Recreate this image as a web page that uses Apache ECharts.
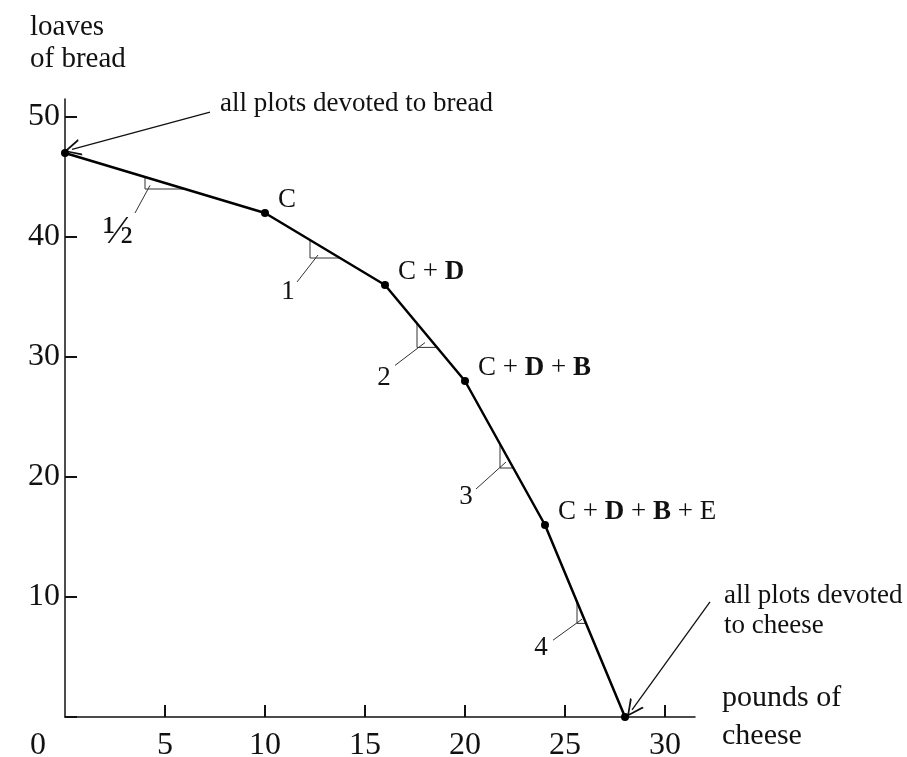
<!DOCTYPE html>
<html>
<head>
<meta charset="utf-8">
<script src="https://cdn.jsdelivr.net/npm/echarts@6/dist/echarts.min.js"></script>
<style>
  html, body { margin: 0; padding: 0; background: #fff; }
  #chart { width: 907px; height: 757px; }
</style>
</head>
<body>
<div id="chart"></div>
<script>
// production possibilities: pounds of cheese vs loaves of bread
var cheese = [0, 10, 16, 20, 24, 28];
var bread = [47, 42, 36, 28, 16, 0];
var pointNames = ['', 'C', 'C + {b|D}', 'C + {b|D} + {b|B}', 'C + {b|D} + {b|B} + E', ''];
var xTicks = [5, 10, 15, 20, 25, 30];
var yTicks = [0, 10, 20, 30, 40, 50];
var yTickLabels = [10, 20, 30, 40, 50];

// slope markers: small right triangle under each segment, a leader line, and its label
var slopeLabels = ['½', '1', '2', '3', '4'];
var slopeTriangles = [
    [[4, 45], [4, 44], [6, 44]],
    [[12.25, 39.75], [12.25, 38.25], [13.75, 38.25]],
    [[17.6, 32.8], [17.6, 30.8], [18.6, 30.8]],
    [[21.75, 22.75], [21.75, 20.75], [22.42, 20.75]],
    [[25.6, 9.6], [25.6, 7.8], [26.05, 7.8]]
];
var slopeLeaders = [
    [[4.25, 44.3], [3.5, 42]],
    [[12.65, 38.5], [11.6, 36.25]],
    [[18, 31.2], [16.5, 29.3]],
    [[22.05, 21.25], [20.55, 19]],
    [[25.85, 8.15], [24.4, 6.4]]
];
var slopeLabelAt = [[2.65, 40.4], [11.15, 35.4], [15.95, 28.25], [20.05, 18.3], [23.8, 5.75]];

// notes with arrows pointing to the two end points
var noteTexts = ['all plots devoted to bread', 'all plots devoted\nto cheese'];
var noteAt = [[7.75, 51.1], [32.95, 8.8]];
var noteArrows = [
    [[7.25, 50.4], [0.35, 47.3]],
    [[32.25, 9.6], [28.35, 0.6]]
];

var FONT = '"Liberation Serif", "DejaVu Serif", serif';
var INK = '#111';
var myChart = echarts.init(document.getElementById('chart'));

var curve = [];
for (var i = 0; i < cheese.length; i++) {
    curve.push([cheese[i], bread[i], pointNames[i]]);
}
var triLines = [];
for (var i = 0; i < slopeTriangles.length; i++) {
    triLines.push({ coords: slopeTriangles[i] });
    triLines.push({ coords: slopeLeaders[i] });
}
var slopeText = [];
for (var i = 0; i < slopeLabels.length; i++) {
    slopeText.push([slopeLabelAt[i][0], slopeLabelAt[i][1], slopeLabels[i]]);
}
var noteData = [];
for (var i = 0; i < noteTexts.length; i++) {
    noteData.push([noteAt[i][0], noteAt[i][1], noteTexts[i]]);
}
var arrowLines = [];
for (var i = 0; i < noteArrows.length; i++) {
    arrowLines.push({ coords: noteArrows[i] });
}

var option = {
    animation: false,
    backgroundColor: '#fff',
    grid: { left: 65, right: 212, top: 99, bottom: 40, outerBoundsMode: 'none', containLabel: false },
    xAxis: {
        type: 'value',
        min: 0,
        max: 31.5,
        interval: 5,
        name: 'pounds of\ncheese',
        nameLocation: 'end',
        nameGap: 27,
        nameTextStyle: { fontFamily: FONT, fontSize: 30, color: INK, lineHeight: 38, align: 'left', padding: [8, 0, 0, 0] },
        axisLine: { lineStyle: { color: INK, width: 1.5 } },
        axisTick: { inside: true, length: 12, customValues: xTicks, lineStyle: { color: INK, width: 2 } },
        axisLabel: {
            margin: 13,
            fontFamily: FONT,
            fontSize: 32,
            color: INK,
            customValues: xTicks
        },
        splitLine: { show: false }
    },
    yAxis: {
        type: 'value',
        min: 0,
        max: 51.5,
        interval: 10,
        axisLine: { show: true, lineStyle: { color: INK, width: 1.5 } },
        axisTick: { show: true, inside: true, length: 12, customValues: yTicks, lineStyle: { color: INK, width: 2 } },
        axisLabel: {
            margin: 5,
            fontFamily: FONT,
            fontSize: 32,
            color: INK,
            customValues: yTickLabels
        },
        splitLine: { show: false }
    },
    graphic: [
        { type: 'text', left: 30, top: 11, style: { text: 'loaves\nof bread', font: '29px ' + FONT, fill: INK, lineHeight: 32 } },
        { type: 'text', x: 38, y: 746, style: { text: '0', font: '32px ' + FONT, fill: INK, align: 'center', verticalAlign: 'middle' } }
    ],
    series: [
        {
            type: 'line',
            data: curve,
            symbol: 'circle',
            symbolSize: 8,
            itemStyle: { color: '#000', opacity: 1 },
            lineStyle: { color: '#000', width: 2.5, opacity: 1 },
            label: {
                show: true,
                position: 'right',
                offset: [4, -13],
                fontFamily: FONT,
                fontSize: 27,
                color: INK,
                formatter: function (p) { return p.data[2]; },
                rich: { b: { fontFamily: FONT, fontSize: 27, fontWeight: 'bold', color: INK } }
            },
            z: 5
        },
        {
            type: 'lines',
            coordinateSystem: 'cartesian2d',
            polyline: true,
            data: triLines,
            lineStyle: { color: '#333', width: 1, opacity: 1 },
            symbol: 'none',
            z: 3
        },
        {
            type: 'scatter',
            data: slopeText,
            symbolSize: 0,
            itemStyle: { opacity: 1 },
            label: {
                show: true,
                position: 'inside',
                fontFamily: FONT,
                fontSize: 27,
                color: INK,
                formatter: function (p) {
                    return p.data[2] === '½' ? '{f|½}' : p.data[2];
                },
                rich: { f: { fontFamily: FONT, fontSize: 40, color: INK } }
            },
            z: 4
        },
        {
            type: 'lines',
            coordinateSystem: 'cartesian2d',
            clip: false,
            data: arrowLines,
            lineStyle: { color: INK, width: 1.3, opacity: 1 },
            symbol: ['none', 'path://M5,0 L10,10 L8.8,10 L5,2.2 L1.2,10 L0,10 Z'],
            symbolSize: [17, 17],
            z: 4
        },
        {
            type: 'scatter',
            clip: false,
            data: noteData,
            symbolSize: 0,
            itemStyle: { opacity: 1 },
            label: {
                show: true,
                position: 'right',
                distance: 0,
                fontFamily: FONT,
                fontSize: 27,
                lineHeight: 30,
                color: INK,
                formatter: function (p) { return p.data[2]; }
            },
            z: 4
        }
    ]
};
myChart.setOption(option, true);
</script>
</body>
</html>
